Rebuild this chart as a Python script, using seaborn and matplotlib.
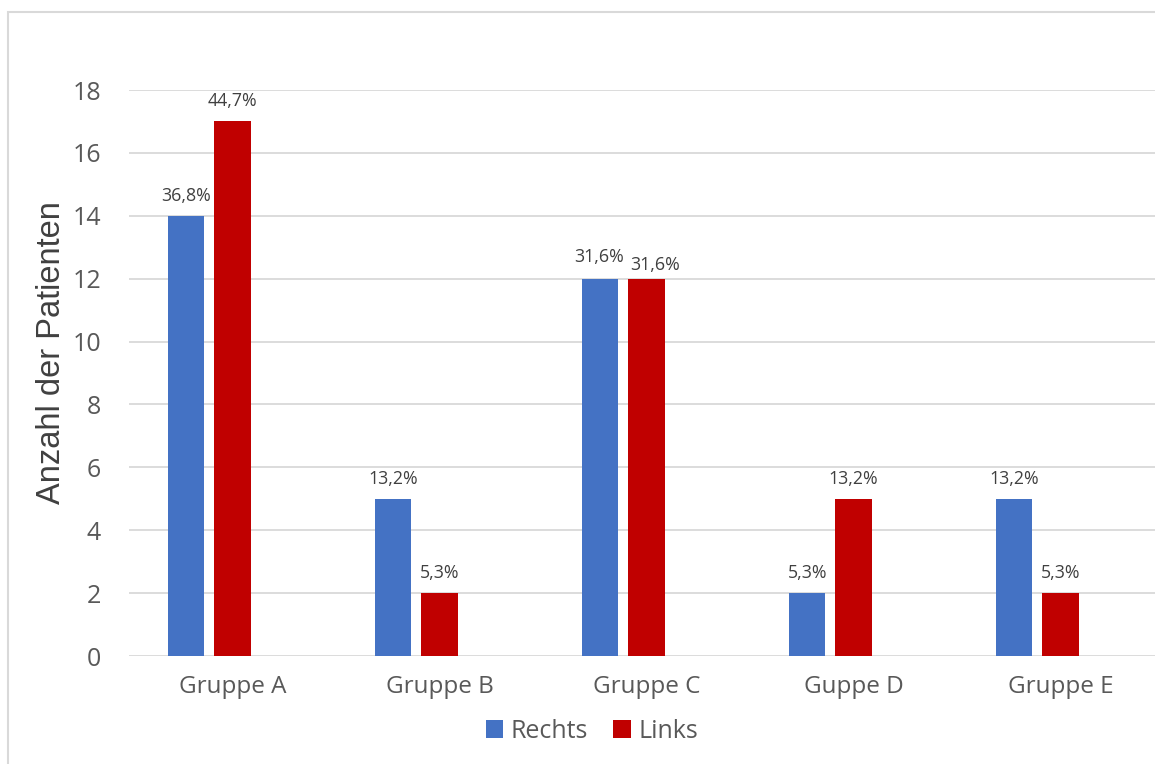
import matplotlib
matplotlib.use("Agg")
import matplotlib.pyplot as plt
from matplotlib.patches import Rectangle, Patch
import seaborn as sns
import pandas as pd

categories = ["Gruppe A", "Gruppe B", "Gruppe C", "Guppe D", "Gruppe E"]
rechts = [14, 5, 12, 2, 5]
links = [17, 2, 12, 5, 2]
rechts_labels = ["36,8%", "13,2%", "31,6%", "5,3%", "13,2%"]
links_labels = ["44,7%", "5,3%", "31,6%", "13,2%", "5,3%"]
series = ["Rechts", "Links"]
colors = {"Rechts": "#4472C4", "Links": "#C00000", "_leer": "#FFFFFF"}

df = pd.DataFrame({
    "Gruppe": categories * 2,
    "Seite": ["Rechts"] * len(categories) + ["Links"] * len(categories),
    "Anzahl": rechts + links,
})

sns.set_style("white")
plt.rcParams["font.family"] = ["Open Sans", "DejaVu Sans"]

fig = plt.figure(figsize=(11.55, 7.64), dpi=100)
ax = fig.add_axes([129 / 1155, 1 - 656 / 764, 1035 / 1155, (656 - 90) / 764])

sns.barplot(data=df, x="Gruppe", y="Anzahl", hue="Seite",
            order=categories, hue_order=["Rechts", "Links", "_leer"],
            palette=colors, width=0.667, gap=0.217, legend=False,
            saturation=1, ax=ax, linewidth=0)

ax.set_ylim(0, 18)
ax.set_yticks(range(0, 19, 2))
ax.yaxis.grid(True, color="#D9D9D9", linewidth=1.3)
ax.set_axisbelow(True)
for s in ax.spines.values():
    s.set_visible(False)
ax.tick_params(axis="y", length=0, labelsize=18, labelcolor="#595959", pad=20)
ax.tick_params(axis="x", length=0, labelsize=17.5, labelcolor="#595959", pad=14)
ax.set_xlabel("")
ax.set_ylabel("Anzahl der Patienten", fontsize=23.5, color="#404040",
              family=["Liberation Sans", "DejaVu Sans"])
ax.yaxis.set_label_coords(-62 / 1035, 303 / 566)

lab_sets = [rechts_labels, links_labels]
all_texts = []
for cont, labs in zip(ax.containers[:2], lab_sets):
    all_texts.append(ax.bar_label(cont, labels=labs, padding=8, fontsize=12.8,
                                  color="#404040"))
# Links label of Gruppe C nudged right/down to avoid touching its neighbour
all_texts[1][2].xyann = (6, 3)
all_texts[0][2].xyann = (-1, 9)

handles = [Patch(facecolor=colors[s], edgecolor="none") for s in series]
fig.legend(handles, series, loc="center", bbox_to_anchor=(592 / 1155, 1 - 731 / 764),
           ncol=2, frameon=False, fontsize=18, handlelength=0.7, handleheight=0.7,
           handletextpad=0.3, columnspacing=1.0, labelcolor="#595959")

fig.patches.append(Rectangle((8 / 1155, -0.1), 1.2, 1.1 - 12 / 764,
                             transform=fig.transFigure, fill=False,
                             edgecolor="#D9D9D9", linewidth=1.5))

fig.savefig("out.png", dpi=100)
